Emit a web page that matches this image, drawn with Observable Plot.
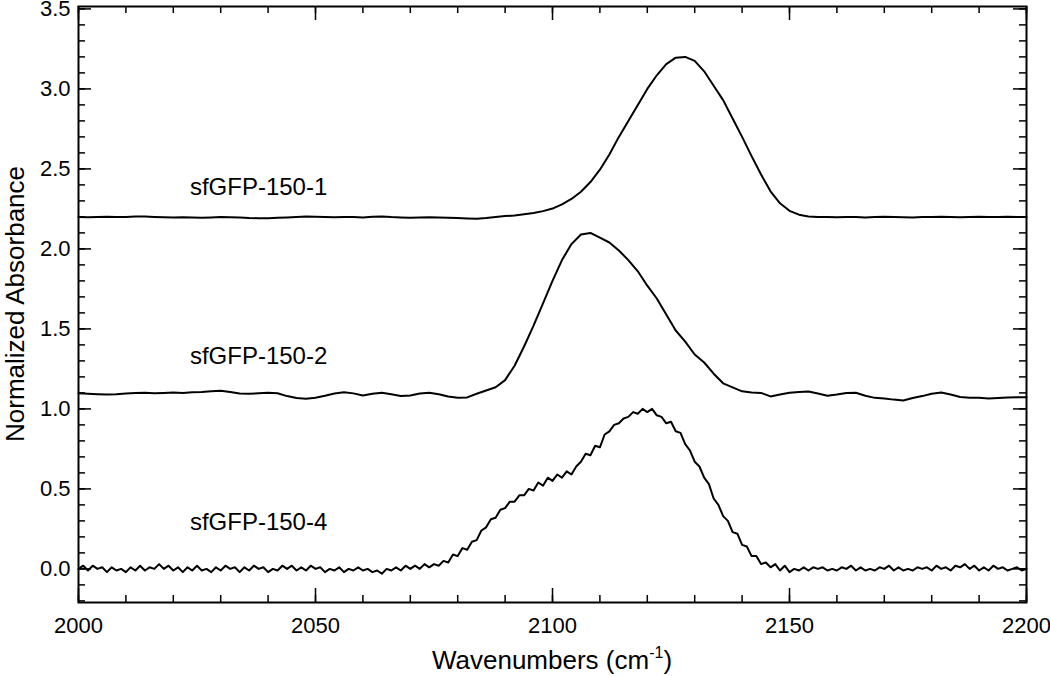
<!DOCTYPE html>
<html>
<head>
<meta charset="utf-8">
<script src="https://cdn.jsdelivr.net/npm/d3@7"></script>
<script src="https://cdn.jsdelivr.net/npm/@observablehq/plot@0.6"></script>
<style>
  html, body { margin: 0; padding: 0; background: #fff; }
  #chart svg { display: block; }
</style>
</head>
<body>
<div id="chart"></div>
<script>
// ---------- data ----------
const seriesNames = ["sfGFP-150-1", "sfGFP-150-2", "sfGFP-150-4"];

// sfGFP-150-1 (offset +2.2), wavenumbers 2000..2200 every 2 cm-1
const wn1Start = 2000, wn1Step = 2;
const absorb1 = [
  2.200,2.198,2.199,2.201,2.199,2.200,2.202,2.203,2.200,2.198,
  2.197,2.198,2.196,2.195,2.197,2.200,2.198,2.196,2.193,2.192,
  2.191,2.194,2.196,2.199,2.202,2.201,2.199,2.198,2.200,2.199,
  2.197,2.201,2.203,2.199,2.197,2.195,2.196,2.198,2.197,2.195,
  2.193,2.190,2.188,2.193,2.200,2.205,2.209,2.216,2.224,2.236,
  2.252,2.278,2.312,2.357,2.418,2.495,2.590,2.700,2.800,2.900,
  3.000,3.085,3.155,3.195,3.200,3.175,3.110,3.020,2.930,2.815,
  2.700,2.580,2.465,2.360,2.285,2.238,2.214,2.203,2.200,2.199,
  2.198,2.200,2.199,2.197,2.199,2.201,2.200,2.198,2.197,2.199,
  2.200,2.201,2.199,2.198,2.200,2.201,2.199,2.200,2.201,2.200,
  2.200
];

// sfGFP-150-2 (offset +1.1), wavenumbers 2000..2200 every 2 cm-1
const wn2Start = 2000, wn2Step = 2;
const absorb2 = [
  1.098,1.095,1.092,1.090,1.092,1.097,1.099,1.101,1.098,1.100,
  1.102,1.100,1.104,1.106,1.110,1.114,1.106,1.096,1.094,1.098,
  1.101,1.098,1.080,1.068,1.063,1.070,1.082,1.096,1.104,1.097,
  1.084,1.094,1.101,1.092,1.080,1.084,1.096,1.101,1.092,1.078,
  1.070,1.072,1.095,1.115,1.135,1.180,1.270,1.390,1.520,1.660,
  1.800,1.930,2.030,2.090,2.100,2.070,2.040,1.990,1.930,1.860,
  1.770,1.690,1.590,1.490,1.420,1.340,1.290,1.220,1.160,1.135,
  1.110,1.103,1.100,1.078,1.090,1.101,1.106,1.109,1.096,1.082,
  1.090,1.100,1.101,1.082,1.069,1.065,1.058,1.053,1.068,1.080,
  1.095,1.103,1.090,1.074,1.069,1.070,1.065,1.068,1.072,1.073,
  1.073
];

// sfGFP-150-4 (no offset), wavenumbers 2000..2200 every 1 cm-1
const wn3Start = 2000, wn3Step = 1;
const absorb3 = [
  0.00,0.02,-0.01,0.02,0.00,0.01,-0.02,0.01,-0.01,0.00,
  -0.02,0.01,-0.01,0.02,-0.01,0.01,0.00,0.03,0.00,0.02,
  -0.01,0.01,-0.02,0.01,-0.01,0.02,-0.01,0.00,-0.02,0.01,
  -0.01,0.02,0.00,0.01,-0.02,0.01,-0.01,0.02,0.00,0.01,
  -0.02,0.00,-0.01,0.02,0.00,0.02,-0.01,0.01,-0.01,0.02,
  0.00,0.01,-0.02,0.00,-0.01,0.01,-0.02,0.00,-0.01,0.01,
  -0.01,0.00,-0.02,-0.01,-0.03,0.00,-0.01,0.01,-0.01,0.02,
  0.00,0.02,0.00,0.03,0.01,0.03,0.02,0.05,0.04,0.09,
  0.08,0.13,0.12,0.17,0.18,0.24,0.26,0.31,0.32,0.37,
  0.38,0.42,0.42,0.46,0.46,0.50,0.49,0.54,0.52,0.57,
  0.55,0.59,0.57,0.61,0.59,0.64,0.67,0.72,0.71,0.77,
  0.76,0.84,0.86,0.90,0.91,0.94,0.95,0.98,0.97,1.00,
  0.98,1.00,0.96,0.95,0.91,0.92,0.86,0.85,0.78,0.74,
  0.67,0.64,0.57,0.53,0.44,0.40,0.33,0.30,0.23,0.22,
  0.15,0.14,0.08,0.08,0.03,0.04,0.01,0.03,-0.01,0.02,
  -0.02,0.00,-0.01,0.01,-0.01,0.01,0.00,0.01,-0.01,0.00,
  -0.01,0.01,0.00,0.02,-0.01,0.01,-0.01,0.00,-0.01,0.01,
  0.00,0.02,-0.01,0.01,-0.01,0.00,-0.01,0.01,0.00,0.01,
  -0.01,0.02,0.00,0.01,-0.01,0.02,0.01,0.03,0.00,0.02,
  -0.01,0.01,-0.01,0.02,0.00,0.01,-0.01,0.00,0.01,-0.01,
  0.00
];

const xMajorTicks = [2000, 2050, 2100, 2150, 2200];
const yMajorTicks = [0.0, 0.5, 1.0, 1.5, 2.0, 2.5, 3.0, 3.5];
const xMinorTicks = d3.range(2000, 2201, 10);
const yMinorTicks = d3.range(-2, 36, 1).map(d => d / 10);

// label anchor points (data units)
const labelWn = [2023.5, 2023.5, 2023.5];
const labelAbs = [2.385, 1.33, 0.29];

// ---------- build ----------
function rows(name, start, step, values) {
  return values.map((v, i) => ({series: name, wn: start + i * step, a: v}));
}
const data = [
  ...rows(seriesNames[0], wn1Start, wn1Step, absorb1),
  ...rows(seriesNames[1], wn2Start, wn2Step, absorb2),
  ...rows(seriesNames[2], wn3Start, wn3Step, absorb3)
];
const labels = seriesNames.map((n, i) => ({name: n, wn: labelWn[i], a: labelAbs[i]}));

const W = 1050, H = 676;
const mL = 78, mR = 24, mT = 6, mB = 74;
const FW = W - mL - mR, FH = H - mT - mB;
const FONT = "'Liberation Sans', Arial, Helvetica, sans-serif";

const plot = Plot.plot({
  width: W,
  height: H,
  marginLeft: mL,
  marginRight: mR,
  marginTop: mT,
  marginBottom: mB,
  style: {fontFamily: FONT, background: "#fff", color: "#000"},
  x: {domain: [2000, 2200]},
  y: {domain: [-0.21, 3.515]},
  marks: [
    // minor ticks (inward, all four sides)
    Plot.tickX(xMinorTicks, {x: d => d, insetTop: FH - 7, stroke: "#000", strokeWidth: 1.5}),
    Plot.tickX(xMinorTicks, {x: d => d, insetBottom: FH - 7, stroke: "#000", strokeWidth: 1.5}),
    Plot.tickY(yMinorTicks, {y: d => d, insetRight: FW - 7, stroke: "#000", strokeWidth: 1.5}),
    Plot.tickY(yMinorTicks, {y: d => d, insetLeft: FW - 7, stroke: "#000", strokeWidth: 1.5}),
    // major ticks
    Plot.tickX(xMajorTicks, {x: d => d, insetTop: FH - 14, stroke: "#000", strokeWidth: 1.5}),
    Plot.tickX(xMajorTicks, {x: d => d, insetBottom: FH - 14, stroke: "#000", strokeWidth: 1.5}),
    Plot.tickY(yMajorTicks, {y: d => d, insetRight: FW - 13, stroke: "#000", strokeWidth: 1.5}),
    Plot.tickY(yMajorTicks, {y: d => d, insetLeft: FW - 13, stroke: "#000", strokeWidth: 1.5}),
    // tick labels
    Plot.axisX({ticks: xMajorTicks, anchor: "bottom", tickSize: 0, tickPadding: 15,
      fontSize: 22, tickFormat: d => String(d), label: null}),
    Plot.axisY({ticks: yMajorTicks, anchor: "left", tickSize: 0, tickPadding: 8,
      fontSize: 22, tickFormat: d3.format(".1f"), label: null}),
    // spectra
    Plot.line(data, {x: "wn", y: "a", z: "series", stroke: "#000", strokeWidth: 2,
      strokeLinejoin: "round", curve: "linear"}),
    // series labels
    Plot.text(labels, {x: "wn", y: "a", text: "name", textAnchor: "start",
      fontSize: 24, fill: "#000"}),
    Plot.frame({stroke: "#000", strokeWidth: 2})
  ]
});

// axis titles (with superscript)
const svg = d3.select(plot);
const xr = plot.scale("x").range;
const yr = plot.scale("y").range;
const xt = svg.append("text")
  .attr("x", (xr[0] + xr[1]) / 2)
  .attr("y", 669)
  .attr("text-anchor", "middle")
  .attr("font-family", FONT)
  .attr("font-size", 26)
  .attr("fill", "#000");
xt.append("tspan").text("Wavenumbers (cm");
xt.append("tspan").attr("font-size", 16).attr("dy", -11).text("-1");
xt.append("tspan").attr("dy", 11).text(")");

svg.append("text")
  .attr("transform", `translate(24,${(yr[0] + yr[1]) / 2}) rotate(-90)`)
  .attr("text-anchor", "middle")
  .attr("font-family", FONT)
  .attr("font-size", 26)
  .attr("fill", "#000")
  .text("Normalized Absorbance");

document.getElementById("chart").appendChild(plot);
</script>
</body>
</html>
